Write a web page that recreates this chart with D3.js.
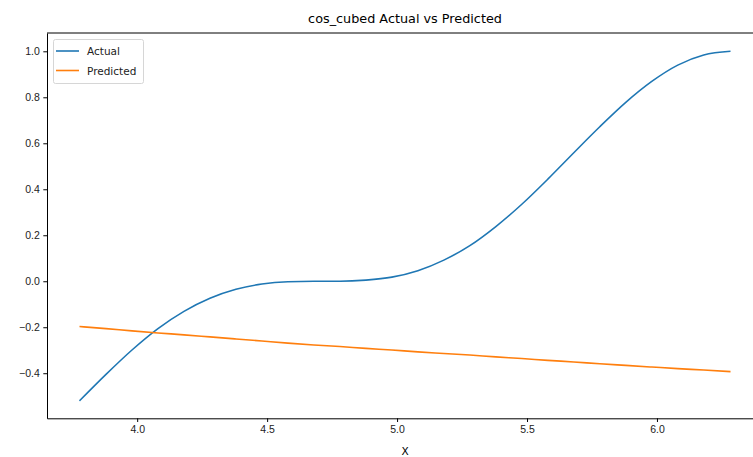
<!DOCTYPE html>
<html>
<head>
<meta charset="utf-8">
<script src="https://cdn.jsdelivr.net/npm/d3@7"></script>
<style>
  body { margin: 0; background: #fff; }
  svg { font-family: "DejaVu Sans", sans-serif; }
</style>
</head>
<body>
<div id="chart"></div>
<script>
// values
const xs = [3.778, 3.88, 3.98, 4.08, 4.18, 4.28, 4.38, 4.48, 4.58, 4.68, 4.78, 4.88, 4.98,
            5.08, 5.18, 5.28, 5.38, 5.48, 5.58, 5.68, 5.78, 5.88, 5.98, 6.08, 6.18, 6.283];
const actual = [-0.520, -0.405, -0.299, -0.206, -0.131, -0.074, -0.035, -0.012, -0.002, 0.000,
                0.000, 0.005, 0.018, 0.046, 0.092, 0.155, 0.238, 0.335, 0.444, 0.559,
                0.672, 0.778, 0.869, 0.940, 0.984, 1.000];
const predicted = [-0.197, -0.206, -0.216, -0.225, -0.233, -0.242, -0.251, -0.260, -0.269, -0.277,
                   -0.284, -0.292, -0.299, -0.307, -0.314, -0.321, -0.329, -0.336, -0.344, -0.351,
                   -0.359, -0.366, -0.373, -0.380, -0.386, -0.393];
const xTicks = [4.0, 4.5, 5.0, 5.5, 6.0];
const yTicks = [-0.4, -0.2, 0.0, 0.2, 0.4, 0.6, 0.8, 1.0];

const W = 753, H = 457;
const mLeft = 47, mRight = 763, mTop = 33, mBottom = 418.3;

const svg = d3.select("#chart").append("svg").attr("width", W).attr("height", H);

const x = d3.scaleLinear().domain([3.653, 6.408]).range([mLeft, mRight]);
const y = d3.scaleLinear().domain([-0.596, 1.0796]).range([mBottom, mTop]);

// axes
svg.append("g")
    .attr("transform", `translate(0,${mBottom})`)
    .call(d3.axisBottom(x).tickValues(xTicks).tickFormat(d3.format(".1f")).tickSizeInner(3.7).tickSizeOuter(0).tickPadding(3.5))
    .call(g => g.selectAll("text").attr("font-size", 10.5).attr("fill", "#222"))
    .call(g => g.select(".domain").attr("stroke", "#000").attr("stroke-width", 1));

svg.append("g")
    .attr("transform", `translate(${mLeft},0)`)
    .call(d3.axisLeft(y).tickValues(yTicks).tickFormat(d => d3.format(".1f")(d).replace("-", "\u2212")).tickSizeInner(3.7).tickSizeOuter(0).tickPadding(3.5))
    .call(g => g.selectAll("text").attr("font-size", 10.5).attr("fill", "#222"))
    .call(g => g.select(".domain").attr("stroke", "#000").attr("stroke-width", 1));

// top spine
svg.append("line").attr("x1", mLeft).attr("x2", mRight).attr("y1", mTop).attr("y2", mTop)
    .attr("stroke", "#000").attr("stroke-width", 1);

const line = d3.line().x((d, i) => x(xs[i])).y(d => y(d)).curve(d3.curveMonotoneX);

svg.append("path").datum(actual).attr("d", line)
    .attr("fill", "none").attr("stroke", "#1f77b4").attr("stroke-width", 1.6);
svg.append("path").datum(predicted).attr("d", line)
    .attr("fill", "none").attr("stroke", "#ff7f0e").attr("stroke-width", 1.6);

// title and label
svg.append("text").attr("x", (mLeft + mRight) / 2).attr("y", 23).attr("text-anchor", "middle")
    .attr("font-size", 12.8).attr("fill", "#000").text("cos_cubed Actual vs Predicted");
svg.append("text").attr("x", (mLeft + mRight) / 2).attr("y", 455).attr("text-anchor", "middle")
    .attr("font-size", 10.5).attr("fill", "#000").text("X");

// legend
const leg = svg.append("g");
leg.append("rect").attr("x", 53.5).attr("y", 39.5).attr("width", 90).attr("height", 44).attr("rx", 2)
    .attr("fill", "#fff").attr("fill-opacity", 0.8).attr("stroke", "#d6d6d6");
[["Actual", "#1f77b4"], ["Predicted", "#ff7f0e"]].forEach((d, i) => {
  const ly = 51 + i * 19.5;
  leg.append("line").attr("x1", 56).attr("x2", 79).attr("y1", ly).attr("y2", ly)
      .attr("stroke", d[1]).attr("stroke-width", 1.6);
  leg.append("text").attr("x", 87).attr("y", ly + 4).attr("font-size", 10.5).attr("fill", "#222").text(d[0]);
});
</script>
</body>
</html>
